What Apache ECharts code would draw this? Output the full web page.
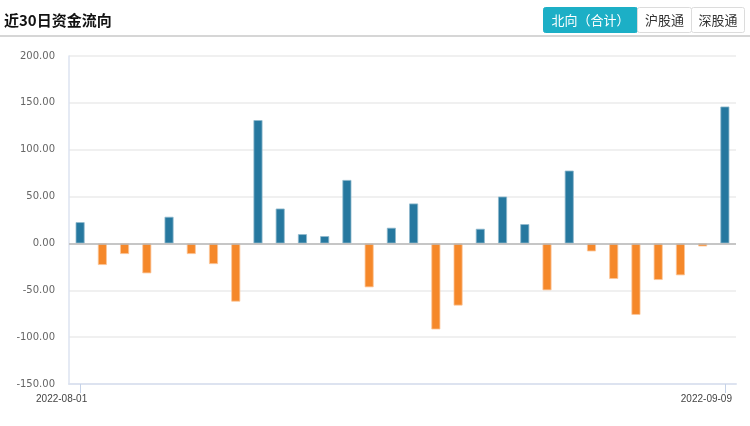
<!DOCTYPE html>
<html>
<head>
<meta charset="utf-8">
<script src="https://cdn.jsdelivr.net/npm/echarts@6/dist/echarts.min.js"></script>
<style>
html,body{margin:0;padding:0;background:#fff;}
#c{width:750px;height:426px;}
</style>
</head>
<body>
<div id="c"></div>
<script>
var titleText = '近30日资金流向';
var tabs = ['北向（合计）', '沪股通', '深股通'];
var dates = ['2022-08-01','2022-08-02','2022-08-03','2022-08-04','2022-08-05',
  '2022-08-08','2022-08-09','2022-08-10','2022-08-11','2022-08-12',
  '2022-08-15','2022-08-16','2022-08-17','2022-08-18','2022-08-19',
  '2022-08-22','2022-08-23','2022-08-24','2022-08-25','2022-08-26',
  '2022-08-29','2022-08-30','2022-08-31','2022-09-01','2022-09-02',
  '2022-09-05','2022-09-06','2022-09-07','2022-09-08','2022-09-09'];
var flows = [22.7,-23.0,-11.3,-31.9,28.4,-11.3,-22.0,-62.1,131.6,37.2,
  9.9,7.8,67.7,-46.8,16.7,42.6,-91.8,-66.3,15.6,50.0,
  20.6,-50.0,77.7,-8.5,-37.9,-76.2,-39.0,-34.0,-3.2,146.1];

var chart = echarts.init(document.getElementById('c'));
var lastIdx = dates.length - 1;
var showEnds = function (i) { return i === 0 || i === lastIdx; };

var barData = flows.map(function (v) {
  var pos = v >= 0;
  return {
    value: v,
    itemStyle: {
      color: pos ? '#26789f' : '#f5882a',
      borderColor: pos ? '#8fb9cd' : '#fbc79a',
      borderWidth: 0.8
    }
  };
});

var btnX = [543, 637, 691];
var btnW = [94, 54, 53];
var graphics = [{
  type: 'line', shape: {x1: 0, y1: 36, x2: 750, y2: 36},
  style: {stroke: '#c8c8c8', lineWidth: 1.5}, silent: true
}];
tabs.forEach(function (t, i) {
  graphics.push({
    type: 'rect', shape: {x: btnX[i] + 0.5, y: 7.5, width: btnW[i], height: 25, r: 2},
    style: {fill: i === 0 ? '#1cafc6' : '#fff', stroke: i === 0 ? '#1cafc6' : '#dcdcdc', lineWidth: 1}
  });
  graphics.push({
    type: 'text', x: btnX[i] + 0.5 + btnW[i] / 2, y: 20,
    style: {text: t, fill: i === 0 ? '#fff' : '#333', font: '13px "Noto Sans CJK SC"', align: 'center', verticalAlign: 'middle'}
  });
});

chart.setOption({
  animation: false,
  title: {
    text: titleText, left: 4, top: 11, padding: 0,
    textStyle: {fontSize: 15, fontWeight: 'bold', color: '#111', fontFamily: '"Noto Sans CJK SC"', lineHeight: 18}
  },
  graphic: graphics,
  grid: {left: 69, right: 14, top: 56, bottom: 42},
  xAxis: {
    type: 'category', data: dates, boundaryGap: true,
    axisLine: {onZero: false, lineStyle: {color: '#dde3f0', width: 2}},
    axisTick: {show: true, alignWithLabel: true, interval: function (i) { return showEnds(i); }, length: 9, lineStyle: {color: '#c5d2e8'}},
    axisLabel: {
      interval: function (i) { return showEnds(i); }, margin: 10,
      fontSize: 10, color: '#444', fontFamily: '"Liberation Sans"',
      align: 'center', padding: [0, 37, 0, 0]
    },
    splitLine: {show: false}
  },
  yAxis: {
    type: 'value', min: -150, max: 200, interval: 50,
    axisLine: {show: true, lineStyle: {color: '#dde3f0', width: 1.5}},
    axisTick: {show: false},
    axisLabel: {margin: 14, fontSize: 10, color: '#666', fontFamily: '"DejaVu Sans"',
      formatter: function (v) { return v.toFixed(2); }},
    splitLine: {lineStyle: {color: '#ebebeb', width: 1.5}}
  },
  series: [{
    type: 'bar', data: barData, barWidth: 9,
    markLine: {
      silent: true, symbol: 'none', label: {show: false},
      lineStyle: {color: '#b8b8b8', type: 'solid', width: 1.5},
      data: [{yAxis: 0}]
    }
  }]
});
</script>
</body>
</html>
